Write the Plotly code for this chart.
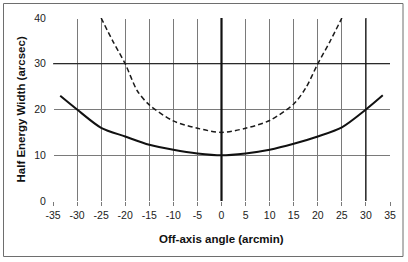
import plotly.graph_objects as go

# Data
angle_solid = [-33.5, -30, -25, -20, -15, -10, -5, 0, 5, 10, 15, 20, 25, 30, 33.5]
hew_solid = [23.0, 20.0, 16.0, 14.1, 12.3, 11.2, 10.4, 10.0, 10.4, 11.2, 12.5, 14.1, 16.1, 20.0, 23.1]

angle_dashed = [-25, -22.5, -20, -17.5, -15, -10, -5, 0, 5, 10, 15, 17.5, 20, 22.5, 25]
hew_dashed = [40.0, 34.8, 30.0, 24.1, 21.0, 17.5, 15.9, 15.0, 15.9, 17.6, 21.2, 24.7, 30.0, 34.8, 40.0]

x_ticks = list(range(-35, 40, 5))
y_ticks = [0, 10, 20, 30, 40]

fig = go.Figure()
fig.add_trace(go.Scatter(x=angle_dashed, y=hew_dashed, mode="lines",
                         line=dict(color="#1a1a1a", width=1.5, dash="5px,3px", shape="spline", smoothing=0.8),
                         showlegend=False, hoverinfo="skip"))
fig.add_trace(go.Scatter(x=angle_solid, y=hew_solid, mode="lines",
                         line=dict(color="#111111", width=2, shape="spline", smoothing=0.8),
                         showlegend=False, hoverinfo="skip"))

# hide grid lines at the left and top edges (reference has none there)
fig.add_shape(type="line", xref="x", yref="y", x0=-35, x1=-35, y0=0, y1=40,
              line=dict(color="white", width=2), layer="between")
fig.add_shape(type="line", xref="x", yref="y", x0=-35, x1=35, y0=40, y1=40,
              line=dict(color="white", width=2), layer="between")
# darker reference lines
fig.add_shape(type="line", xref="x", yref="y", x0=-35, x1=35, y0=30, y1=30,
              line=dict(color="#111111", width=1.2), layer="between")
fig.add_shape(type="line", xref="x", yref="y", x0=30, x1=30, y0=0, y1=40,
              line=dict(color="#111111", width=1.2), layer="between")
fig.add_shape(type="line", xref="x", yref="y", x0=0, x1=0, y0=0, y1=40,
              line=dict(color="#111111", width=2.2), layer="between")

# outer border
fig.add_shape(type="rect", xref="paper", yref="paper",
              x0=(3.5 - 53) / 337, x1=(403 - 53) / 337,
              y0=(201 - 256.5) / 183, y1=(201 - 3.5) / 183,
              line=dict(color="#6e6e6e", width=1), fillcolor="rgba(0,0,0,0)")

font = "Liberation Sans, Arial, sans-serif"
fig.update_layout(
    width=408, height=262,
    margin=dict(l=53, r=18, t=18, b=61, autoexpand=False),
    paper_bgcolor="white", plot_bgcolor="white",
    font=dict(family=font, size=10, color="#222222"),
    xaxis=dict(range=[-35, 35], tickvals=x_ticks, ticktext=[str(v) for v in x_ticks],
               showgrid=True, gridcolor="#7a7a7a", gridwidth=1, zeroline=False,
               showline=False, ticks="outside", ticklen=4, tickcolor="#7a7a7a",
               tickfont=dict(size=10.5), automargin=False),
    yaxis=dict(range=[0, 40], tickvals=y_ticks, showgrid=True, gridcolor="#7a7a7a", gridwidth=1,
               zeroline=False, showline=False, ticks="outside", ticklen=4, tickcolor="rgba(0,0,0,0)",
               tickfont=dict(size=10.5), automargin=False),
    annotations=[
        dict(text="<b>Off-axis angle (arcmin)</b>", xref="paper", yref="paper",
             x=0.5, y=(201 - 239) / 183, showarrow=False, xanchor="center", yanchor="middle",
             font=dict(size=11.5, color="#111")),
        dict(text="<b>Half Energy Width (arcsec)</b>", xref="paper", yref="paper",
             x=(20 - 53) / 337, y=0.5, showarrow=False, xanchor="center", yanchor="middle",
             textangle=-90, font=dict(size=11.5, color="#111")),
    ],
)
fig.write_html("out.html", config={"displayModeBar": False},
               post_script="document.body.style.margin='0';")
